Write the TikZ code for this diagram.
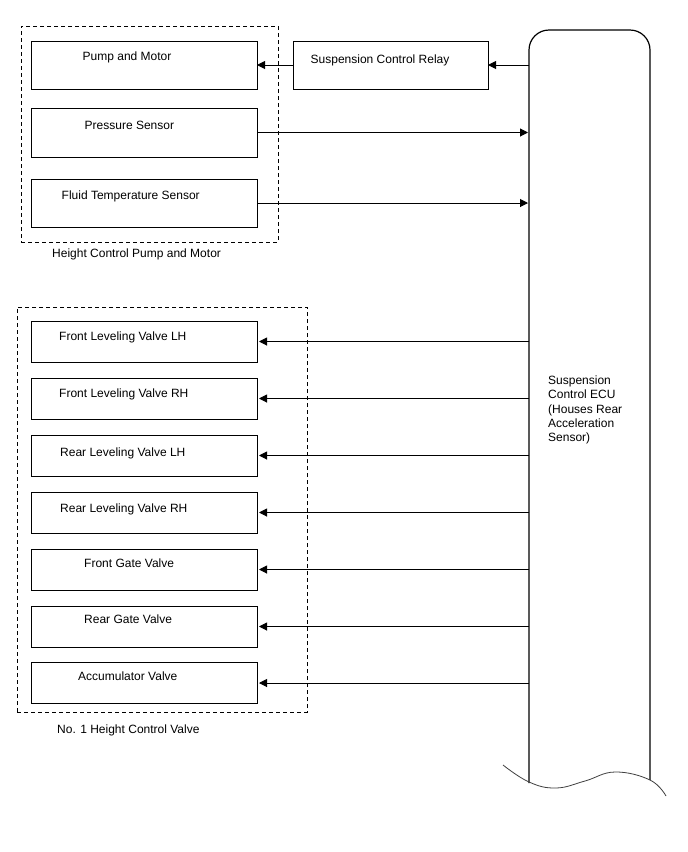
\documentclass[tikz,border=0pt]{standalone}
\usepackage{fontspec}
\setmainfont{Liberation Sans}
\usetikzlibrary{arrows.meta}
\begin{document}
\begin{tikzpicture}[x=1pt,y=-1pt,
  box/.style={draw, line width=1pt, minimum width=226pt, inner sep=0pt, outer sep=0pt},
  grp/.style={draw, line width=1pt, dash pattern=on 4pt off 3pt, inner sep=0pt, outer sep=0pt},
  lbl/.style={anchor=base west, inner sep=0pt, font=\fontsize{12}{14.3}\selectfont},
  arr/.style={-{Triangle[length=8pt,width=8pt]}, line width=1pt},
]
\useasboundingbox (0,0) rectangle (688,852);
\fill[white] (0,0) rectangle (688,852);

% group frames
\node[grp, minimum width=257pt, minimum height=216pt] (grpA) at (149.5,134) {};
\node[grp, minimum width=290pt, minimum height=405pt] (grpB) at (162,509.5) {};
\node[lbl] (grpAlbl) at (52,257.6) {Height Control Pump and Motor};
\node[lbl] (grpBlbl) at (57,733.6) {No. 1 Height Control Valve};

% ECU outline (invisible node for anchors)
\node[minimum width=121pt, minimum height=753pt, inner sep=0pt, outer sep=0pt] (ecu) at (589.5,406.5) {};
\draw[line width=1.2pt, rounded corners=20pt] (529,783) -- (529,30) -- (650,30) -- (650,780);
\draw[line width=0.8pt, black!75] plot[smooth, tension=0.7] coordinates
  {(503,765) (529,782) (556,788) (585,781) (615,772) (650,780) (666,796)};
\node[lbl, align=left] (ecutext) at (548,441.8) {Suspension\\Control ECU\\(Houses Rear\\Acceleration\\Sensor)};

% upper boxes
\node[box, minimum height=48pt] (pump) at (144,65) {};
\node[box, minimum height=49pt] (press) at (144,132.5) {};
\node[box, minimum height=48pt] (fluid) at (144,203) {};
\node[draw, line width=1pt, minimum width=195pt, minimum height=48pt, inner sep=0pt, outer sep=0pt] (relay) at (390.5,65) {};
\node[lbl] (pumpt) at (82.5,60.8) {Pump and Motor};
\node[lbl] (presst) at (84.5,129.4) {Pressure Sensor};
\node[lbl] (fluidt) at (61.5,199.6) {Fluid Temperature Sensor};
\node[lbl] (relayt) at (310.5,63) {Suspension Control Relay};

% lower boxes
\node[box, minimum height=41pt] (flvl) at (144,341.5) {};
\node[box, minimum height=41pt] (flvr) at (144,398.5) {};
\node[box, minimum height=41pt] (rlvl) at (144,455.5) {};
\node[box, minimum height=41pt] (rlvr) at (144,512.5) {};
\node[box, minimum height=41pt] (fgv) at (144,569.5) {};
\node[box, minimum height=41pt] (rgv) at (144,626.5) {};
\node[box, minimum height=41pt] (acc) at (144,683) {};
\node[lbl] (flvlt) at (59,340.6) {Front Leveling Valve LH};
\node[lbl] (flvrt) at (59,397.6) {Front Leveling Valve RH};
\node[lbl] (rlvlt) at (60,456.6) {Rear Leveling Valve LH};
\node[lbl] (rlvrt) at (60,512.2) {Rear Leveling Valve RH};
\node[lbl] (fgvt) at (84,567.6) {Front Gate Valve};
\node[lbl] (rgvt) at (84,623.8) {Rear Gate Valve};
\node[lbl] (acct) at (78,680.6) {Accumulator Valve};

% connectors
\draw[arr] (relay.west) -- (pump.east);
\draw[arr] (ecu.west |- relay.east) -- (relay.east);
\draw[arr, shorten >=1pt] (press.east) -- (ecu.west |- press.east);
\draw[arr, shorten >=1pt] (fluid.east) -- (ecu.west |- fluid.east);
\foreach \n in {flvl,flvr,rlvl,rlvr,fgv,rgv,acc}
  \draw[arr, shorten >=2pt] (ecu.west |- \n.east) -- (\n.east);
\end{tikzpicture}
\end{document}
